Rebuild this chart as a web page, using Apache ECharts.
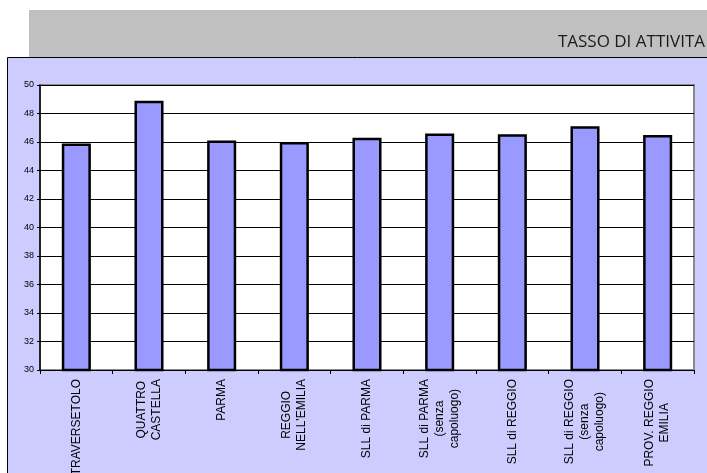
<!DOCTYPE html>
<html>
<head>
<meta charset="utf-8">
<style>
  html, body { margin: 0; padding: 0; background: #fff; }
  #chart { width: 707px; height: 473px; }
</style>
<script src="https://cdn.jsdelivr.net/npm/echarts@6/dist/echarts.min.js"></script>
</head>
<body>
<div id="chart"></div>
<script>
// Activity rate by area (%)
const categories = [
  'TRAVERSETOLO',
  'QUATTRO\nCASTELLA',
  'PARMA',
  'REGGIO\nNELL\'EMILIA',
  'SLL di PARMA',
  'SLL di PARMA\n(senza\ncapoluogo)',
  'SLL di REGGIO',
  'SLL di REGGIO\n(senza\ncapoluogo)',
  'PROV. REGGIO\nEMILIA'
];
const activityRate = [45.9, 48.9, 46.1, 46.0, 46.3, 46.6, 46.55, 47.1, 46.5];
const titleText = 'TASSO DI ATTIVITA';
const yMin = 30, yMax = 50, yStep = 2;

const chart = echarts.init(document.getElementById('chart'), null, { renderer: 'canvas' });

chart.setOption({
  animation: false,
  backgroundColor: '#ffffff',
  graphic: [
    // grey header band
    { type: 'rect', z: -10, shape: { x: 29, y: 10, width: 690, height: 50 },
      style: { fill: '#c0c0c0' } },
    // chart area panel
    { type: 'rect', z: -9, shape: { x: 7.5, y: 57.5, width: 720, height: 430 },
      style: { fill: '#ccccff', stroke: '#000', lineWidth: 1 } }
  ],
  title: {
    text: titleText,
    right: 2,
    top: 34,
    padding: 0,
    textStyle: { fontFamily: 'Open Sans', fontWeight: 'normal', fontSize: 17, color: '#1a1a1a' }
  },
  grid: {
    left: 40, top: 85, right: 13, bottom: 103,
    outerBoundsMode: 'none',
    containLabel: false,
    show: true,
    backgroundColor: '#ffffff',
    borderColor: '#8a8a8a',
    borderWidth: 2
  },
  xAxis: {
    type: 'category',
    data: categories,
    axisLine: { show: true, lineStyle: { color: '#000', width: 1 } },
    axisTick: { show: true, length: 4, lineStyle: { color: '#000' } },
    axisLabel: {
      rotate: 90,
      interval: 0,
      margin: 9,
      fontFamily: 'Liberation Sans',
      fontSize: 12,
      lineHeight: 15,
      color: '#000',
      align: 'right',
      // lines centred on one another, block anchored at the axis
      formatter: function (v) {
        return v.split('\n').map(function (s) { return '{c|' + s + '}'; }).join('\n');
      },
      rich: {
        c: { align: 'center', fontFamily: 'Liberation Sans', fontSize: 12, lineHeight: 15, color: '#000' }
      }
    }
  },
  yAxis: {
    type: 'value',
    min: yMin, max: yMax, interval: yStep,
    axisLine: { show: true, lineStyle: { color: '#000', width: 1.5 } },
    axisTick: { show: true, length: 3, lineStyle: { color: '#000' } },
    splitLine: { show: true, lineStyle: { color: '#000', width: 1 } },
    axisLabel: {
      margin: 6,
      fontFamily: 'Liberation Sans',
      fontSize: 9,
      color: '#000'
    }
  },
  series: [{
    type: 'bar',
    data: activityRate,
    barWidth: '40%',
    itemStyle: { color: '#9999ff', borderColor: '#000', borderWidth: 2.5 }
  }]
});
</script>
</body>
</html>
